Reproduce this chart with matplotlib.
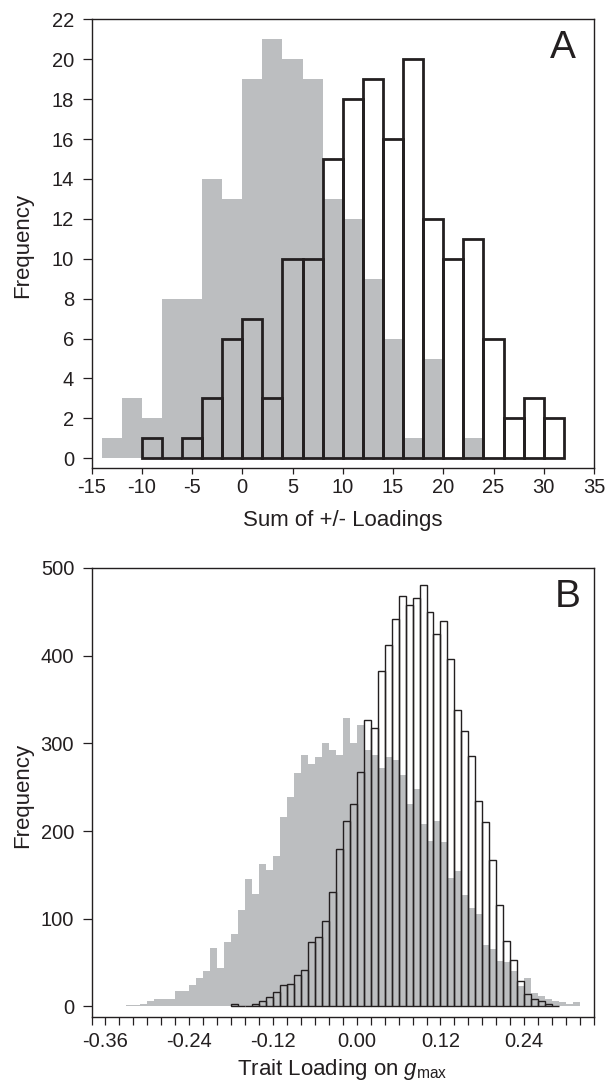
import numpy as np
import matplotlib
matplotlib.use("Agg")
from matplotlib import pyplot as plt

plt.rcParams['font.family'] = ['Liberation Sans', 'DejaVu Sans']
plt.rcParams['axes.unicode_minus'] = False
plt.rcParams['mathtext.fontset'] = 'custom'
plt.rcParams['mathtext.rm'] = 'Liberation Sans'
plt.rcParams['mathtext.it'] = 'Liberation Sans:italic'

# Panel A: sum of +/- loadings, bins of width 2
a_width = 2
a_gray_left = np.arange(-14, 24, a_width)
a_gray = [1, 3, 2, 8, 8, 14, 13, 19, 21, 20, 19, 13, 12, 9, 6, 1, 5, 0, 1]
a_black_left = np.arange(-10, 32, a_width)
a_black = [1, 0, 1, 3, 6, 7, 3, 10, 10, 15, 18, 19, 16, 20, 12, 10, 11, 6, 2, 3, 2]

# Panel B: trait loading on gmax, bins of width 0.01
b_width = 0.01
b_gray_left = np.round(np.arange(-0.37, 0.32, b_width), 3)
b_gray = [1, 1, 1, 1, 2, 2, 3, 6, 8, 8, 8, 18, 18, 25, 33, 40, 67, 44, 73, 83,
          110, 145, 128, 163, 156, 171, 216, 239, 266, 287, 277, 284, 300, 292,
          287, 329, 301, 321, 292, 287, 272, 284, 281, 264, 231, 248, 208, 189,
          211, 187, 146, 154, 127, 112, 105, 70, 65, 52, 51, 40, 23, 33, 15, 12,
          9, 6, 5, 3, 5]
b_black_left = np.round(np.arange(-0.18, 0.29, b_width), 3)
b_black = [3, 0, 1, 3, 6, 11, 17, 25, 26, 36, 42, 73, 79, 98, 130, 179, 211,
           231, 267, 327, 317, 383, 412, 442, 468, 458, 466, 481, 450, 425, 439,
           396, 338, 314, 286, 234, 210, 167, 116, 75, 53, 29, 14, 8, 6, 3, 1]

a_xticks = np.arange(-15, 36, 5)
a_yticks = np.arange(0, 23, 2)
b_xticks = np.round(np.arange(-0.38, 0.35, 0.02), 2)
b_xlabels = [f"{t:.2f}" if round(t * 100) % 12 == 0 else "" for t in b_xticks]
b_yticks = np.arange(0, 501, 100)

GRAY = '#BCBEC0'
DARK = '#231F20'
W, H = 608, 1085

fig = plt.figure(figsize=(W / 100, H / 100), dpi=100)
axA = fig.add_axes([0.1505, 0.5684, 0.8265, 0.4138])
axB = fig.add_axes([0.1505, 0.0627, 0.8265, 0.4138])

# Panel A
axA.bar(a_gray_left, a_gray, width=a_width, align='edge', color=GRAY, linewidth=0)
axA.bar(a_black_left, a_black, width=a_width, align='edge', fill=False,
        edgecolor=DARK, linewidth=2.0)
axA.set_xlim(-15, 35)
axA.set_ylim(-0.5, 22)
axA.set_xticks(a_xticks)
axA.set_yticks(a_yticks)
axA.text(0.938, 0.935, 'A', transform=axA.transAxes, fontsize=28,
         ha='center', va='center', color=DARK)

# Panel B
axB.bar(b_gray_left, b_gray, width=b_width, align='edge', color=GRAY, linewidth=0)
axB.bar(b_black_left, b_black, width=b_width, align='edge', fill=False,
        edgecolor=DARK, linewidth=1.0)
axB.set_xlim(-0.38, 0.34)
axB.set_ylim(-12, 500)
axB.set_xticks(b_xticks)
axB.set_xticklabels(b_xlabels)
axB.set_yticks(b_yticks)
axB.text(0.948, 0.935, 'B', transform=axB.transAxes, fontsize=28,
         ha='center', va='center', color=DARK)

for ax in (axA, axB):
    for s in ax.spines.values():
        s.set_linewidth(1.0)
        s.set_color(DARK)
    ax.tick_params(direction='out', width=0.9, colors=DARK, labelsize=14.5)
    ax.tick_params(axis='y', length=6.5, pad=6)
axA.tick_params(axis='x', length=4, pad=3)
axB.tick_params(axis='x', length=6, pad=5)

# axis titles
fig.text(0.5 * (91.5 + 594) / W, 1 - 526 / H, 'Sum of +/- Loadings', fontsize=16,
         ha='center', va='baseline', color=DARK)
fig.text(0.5 * (91.5 + 594) / W, 1 - 1075 / H, r'Trait Loading on $g_{\mathrm{max}}$',
         fontsize=16, ha='center', va='baseline', color=DARK)
fig.text(23 / W, 1 - 245 / H, 'Frequency', fontsize=16, rotation=90,
         ha='center', va='center', color=DARK)
fig.text(23 / W, 1 - 795 / H, 'Frequency', fontsize=16, rotation=90,
         ha='center', va='center', color=DARK)

fig.savefig('out.png', dpi=100)
